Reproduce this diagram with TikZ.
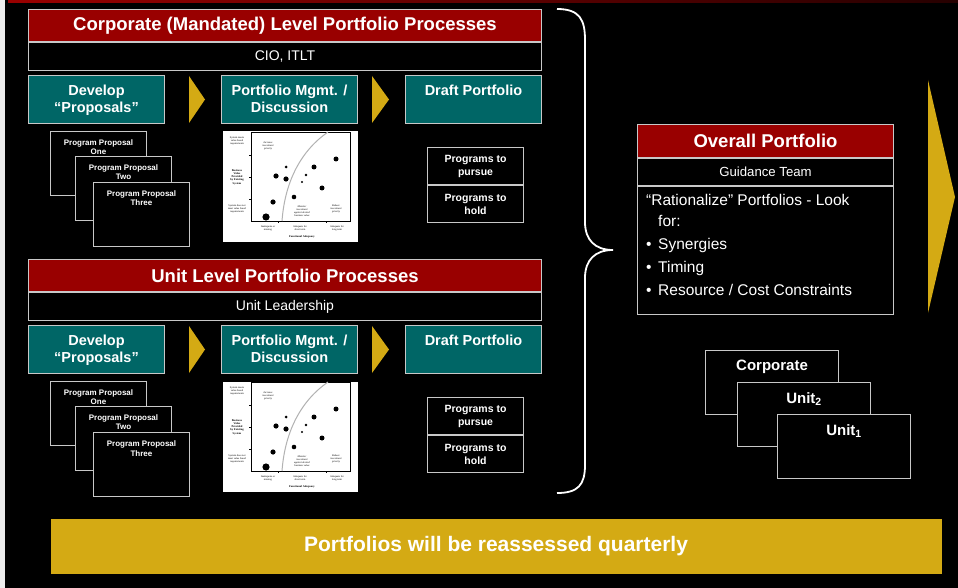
\documentclass[tikz,border=0pt]{standalone}
\usepackage{fontspec}
\setmainfont{Liberation Sans}
\newfontfamily\chartfont{Liberation Serif}
\usetikzlibrary{positioning}

\definecolor{pfred}{HTML}{990000}
\definecolor{pfteal}{HTML}{006666}
\definecolor{pfgold}{HTML}{D4AA14}
\definecolor{pfgray}{HTML}{C8C8C8}

\tikzset{
  box/.style={draw=pfgray, line width=1pt, anchor=north west, inner sep=0pt, text=white},
  hdrbox/.style={box, fill=pfred, minimum width=513pt, minimum height=32pt, font=\bfseries\fontsize{18.5}{22}\selectfont},
  leadbox/.style={box, fill=black, minimum width=513pt, minimum height=28pt, font=\fontsize{14}{16}\selectfont},
  stepbox/.style={box, fill=pfteal, minimum width=136pt, minimum height=48pt},
  steptext/.style={text=white, align=center, inner sep=0pt, font=\bfseries\fontsize{14.5}{17.5}\selectfont},
  propbox/.style={box, fill=black, minimum width=96pt, minimum height=64pt},
  proptext/.style={text=white, align=center, inner sep=0pt, font=\bfseries\fontsize{8}{9.5}\selectfont},
  progbox/.style={box, fill=black, minimum width=96pt, minimum height=37pt, align=center, font=\bfseries\fontsize{10.5}{13}\selectfont},
  stackbox/.style={box, fill=black, minimum width=133pt, minimum height=64pt},
  stacktext/.style={text=white, inner sep=0pt, font=\bfseries\fontsize{15}{18}\selectfont},
  tiny/.style={align=center, inner sep=0pt, font=\chartfont\fontsize{2.6}{3}\selectfont},
  tinyit/.style={tiny, font=\chartfont\itshape\fontsize{2.6}{3}\selectfont},
  tinybf/.style={tiny, font=\chartfont\bfseries\fontsize{2.8}{3.3}\selectfont},
}

\begin{document}
\begin{tikzpicture}[x=1pt,y=-1pt]
\useasboundingbox (0,0) rectangle (958,588);
\fill[black] (0,0) rectangle (958,588);
\fill[white!93!black] (0,0) rectangle (4.5,588);
\shade[left color=pfred, right color=pfred!25!black] (8,0) rectangle (958,3);

\foreach \oy/\ttl/\lead/\n in {0/Corporate (Mandated) Level Portfolio Processes/{CIO, ITLT}/c, 250/Unit Level Portfolio Processes/Unit Leadership/u}{
\begin{scope}[shift={(0,\oy)}]
	\node[hdrbox] (hdr\n) at (28,9) {\ttl};
	\node[leadbox] (lead\n) at (hdr\n.south west) {\lead};

	\node[stepbox] (dev\n) at (28,75) {};
	\node[stepbox] (mgmt\n) at (221,75) {};
	\node[stepbox] (draft\n) at (405,75) {};
	\node[steptext, below=9.5pt of dev\n.north] {Develop\\“Proposals”};
	\node[steptext, below=9.5pt of mgmt\n.north] {Portfolio Mgmt. /\\Discussion};
	\node[steptext, below=9.5pt of draft\n.north] {Draft Portfolio};
	\fill[pfgold] (189,76) -- (205,99.5) -- (189,123) -- cycle;
	\fill[pfgold] (372,76) -- (389,99.5) -- (372,123) -- cycle;

	\node[propbox] (pa\n) at (50,131) {};
	\node[proptext, below=8.5pt of pa\n.north] {Program Proposal\\One};
	\node[propbox] (pb\n) at (75,156) {};
	\node[proptext, below=8.5pt of pb\n.north] {Program Proposal\\Two};
	\node[propbox] (pc\n) at (93,182) {};
	\node[proptext, below=8.5pt of pc\n.north] {Program Proposal\\Three};

	% scatter chart
	\node[box, draw=none, fill=white, minimum width=135pt, minimum height=110pt] (chart\n) at (222,131) {};
	\draw[line width=.5pt] (251,132) rectangle (350,221);
	\foreach \ty in {155,177,199} \draw[line width=.5pt] (249,\ty) -- (251,\ty);
	\foreach \tx in {278,326} \draw[line width=.5pt] (\tx,221) -- (\tx,223);
	\draw[gray!60, line width=1pt] (282,221) .. controls (285,180) and (302,150) .. (328,132);
	\foreach \px/\py/\r in {266/217/3.6, 273/202/2.6, 276/176/2.6, 286/167/1.5, 286/179/2.6, 294/197/2.3, 302/182/1.2, 306/175/1.3, 314/167/2.5, 322/188/2.5, 336/159/2.5}
		\fill (\px,\py) circle (\r);
	\node[tiny] at (237,141) {System meets\\value based\\requirements};
	\node[tinybf] at (237,177) {Business\\Value\\Provided\\by Existing\\System};
	\node[tiny] at (237,209) {System does not\\meet value based\\requirements};
	\node[tinyit] at (268,146) {Increase\\investment\\priority};
	\node[tinyit] at (302,211) {Monitor\\investment\\against desired\\business value};
	\node[tinyit] at (336,209) {Reduce\\investment\\priority};
	\node[tiny] at (268,228) {Inadequate or\\missing};
	\node[tiny] at (300,228) {Adequate for\\short term};
	\node[tiny] at (337,228) {Adequate for\\long term};
	\node[tinybf] at (302,237) {Functional Adequacy};

	\node[progbox] (pursue\n) at (427,147) {Programs to\\pursue};
	\node[progbox] (hold\n) at (pursue\n.south west) {Programs to\\hold};
\end{scope}
}

\draw[white, line width=1.8pt] (557,9) .. controls (580,9) and (585,20) .. (585,40) -- (585,222)
	.. controls (585,240) and (595,250) .. (613,250) .. controls (595,250) and (585,260) .. (585,278)
	-- (585,465) .. controls (585,485) and (578,493) .. (557,493);

\node[box, fill=pfred, minimum width=256pt, minimum height=33pt, font=\bfseries\fontsize{18.5}{22}\selectfont] (overall) at (637,124) {Overall Portfolio};
\node[box, fill=black, minimum width=256pt, minimum height=27pt, font=\fontsize{13.2}{16}\selectfont] (guide) at (overall.south west) {Guidance Team};
\node[box, fill=black, minimum width=256pt, minimum height=128pt] (look) at (guide.south west) {};
\node[text=white, align=left, inner sep=0pt, anchor=north west, font=\fontsize{15.5}{21}\selectfont,
	below right=8pt and 9pt of look.north west] (looktext)
	{“Rationalize” Portfolios - Look\\ \hspace*{12pt}for:\\[2pt]
	\makebox[12pt][l]{\textbullet}Synergies\\[2pt]
	\makebox[12pt][l]{\textbullet}Timing\\[2pt]
	\makebox[12pt][l]{\textbullet}Resource / Cost Constraints};

\fill[pfgold] (928,80) -- (955,197) -- (928,313) -- cycle;

\node[stackbox] (corp) at (705,350) {};
\node[stacktext, below=10pt of corp.north] {Corporate};
\node[stackbox] (unitb) at (737,382) {};
\node[stacktext, below=10pt of unitb.north] {Unit\textsubscript{2}};
\node[stackbox] (unita) at (777,414) {};
\node[stacktext, below=10pt of unita.north] {Unit\textsubscript{1}};

\node[box, draw=none, fill=pfgold, minimum width=891pt, minimum height=55pt, font=\bfseries\fontsize{21}{25}\selectfont] (bar) at (50,518) {Portfolios will be reassessed quarterly};
\end{tikzpicture}
\end{document}
